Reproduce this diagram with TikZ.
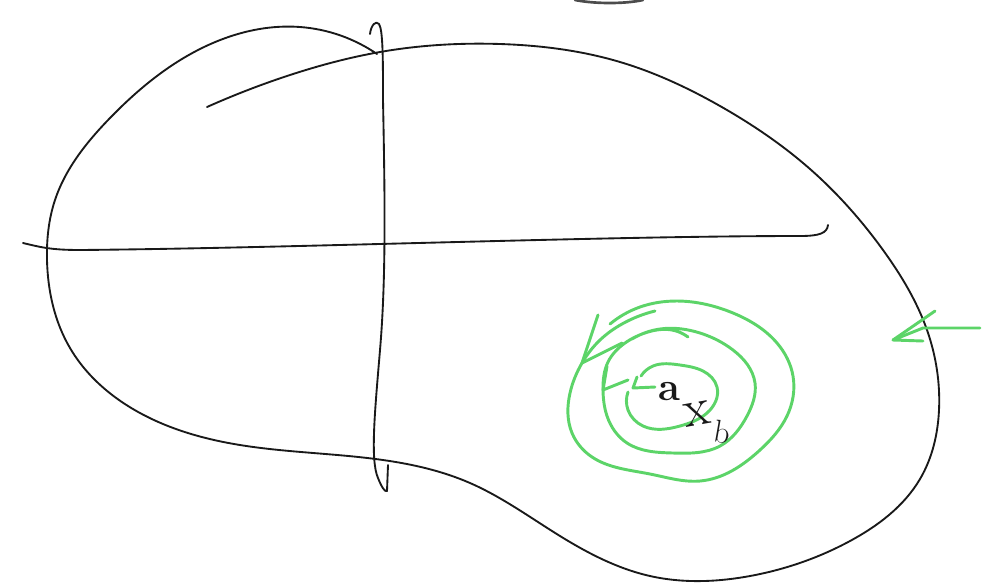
\documentclass[tikz,border=0pt]{standalone}
\usepackage{fontspec}
\usepackage{xcolor}
\usetikzlibrary{hobby}
\definecolor{pen}{RGB}{25,25,25}
\definecolor{grn}{RGB}{92,212,104}
\begin{document}
\begin{tikzpicture}[x=0.75pt,y=-0.75pt,
  ink/.style={draw=pen,line width=1.4pt,line cap=round,line join=round},
  gink/.style={draw=grn,line width=2.2pt,line cap=round,line join=round},
  gcurve/.style={gink,use Hobby shortcut},
  lbl/.style={text=pen,inner sep=0pt}]
\useasboundingbox (0,0) rectangle (994,583);
% faint top arc
\draw[draw=black!70,line width=2pt,line cap=round] (575,0) .. controls (595,4) and (625,4) .. (643,0);
% blob outline
\draw[ink,use Hobby shortcut] (377,54) .. (300,27) .. (200,49) .. (110,118) .. (55,200) .. (47,260) .. (70,348) .. (140,413) .. (240,445) .. (383,460) .. (470,483) .. (560,536) .. (650,576) .. (750,576) .. (850,541) .. (920,479) .. (939,410) .. (927,330) .. (883,250) .. (810,169) .. (720,106) .. (620,62) .. (500,44) .. (380,52) .. (290,75) .. (207,107);
% vertical stroke
\draw[ink] (370,34) .. controls (371,25) and (376,20) .. (379,24) .. controls (383,30) and (383,60) .. (383,100) .. controls (385,200) and (386,280) .. (380,350) .. controls (375,410) and (370,460) .. (378,478) .. controls (382,488) and (385,492) .. (387,491) -- (388,465);
% horizontal stroke
\draw[ink] (23,243) .. controls (40,247) and (50,250) .. (80,250) .. controls (300,248) and (600,236) .. (800,236) .. controls (820,236) and (827,233) .. (828,225);
% green rings
\draw[gcurve] (655,311) .. (622,324) .. (600,340) .. (582,363) .. (570,393) .. (572,433) .. (592,457) .. (650,474) .. (700,481) .. (760,450) .. (787,416) .. (793,376) .. (777,343) .. (733,313) .. (677,301) .. (640,307) .. (610,324);
\draw[gink] (598,315) -- (582,363) -- (622,343);
\draw[gcurve] (688,337) .. (672,330) .. (648,332) .. (625,343) .. (608,362) .. (603,390) .. (607,416) .. (627,443) .. (673,453) .. (720,446) .. (747,416) .. (755,383) .. (733,350) .. (700,333) .. (660,329) .. (632,339);
\draw[gink] (607,366) -- (603,390) -- (628,380);
\draw[gcurve] (641,376) .. (653,366) .. (680,365) .. (703,371) .. (717,387) .. (707,413) .. (680,426) .. (643,426) .. (628,410) .. (628,392);
\draw[gink] (637,377) -- (633,388) -- (655,387);
% right green arrow
\draw[gink] (980,328) -- (923,328) -- (893,340) -- (923,341);
\draw[gink] (935,311) -- (893,340);
% labels
\node[lbl,font=\fontsize{30}{30}\selectfont\bfseries] (a) at (669,392) {a};
\node[lbl,font=\fontsize{40}{40}\selectfont,rotate=10] (x) at (697,414) {x};
\node[lbl,font=\fontsize{24}{24}\selectfont,rotate=-10] (b) at (722,432) {b};
\end{tikzpicture}
\end{document}
